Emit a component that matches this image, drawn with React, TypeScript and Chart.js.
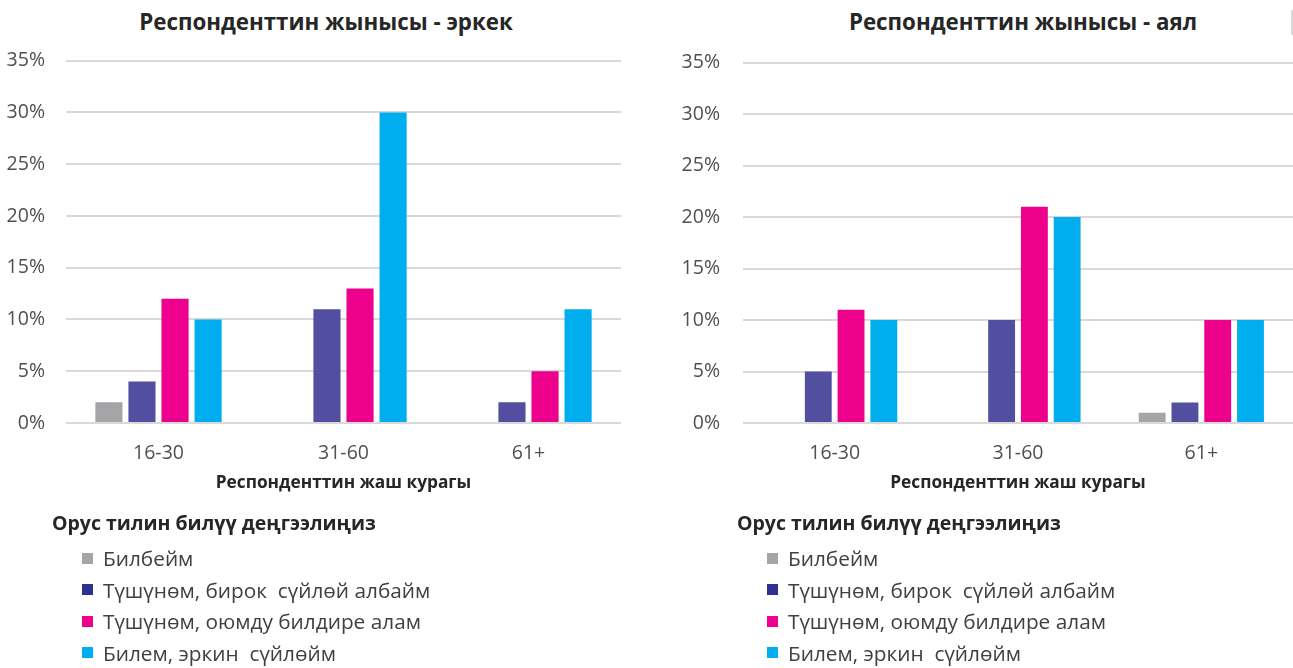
import React, { useEffect, useRef } from "react";
import { Chart, registerables } from "chart.js";

Chart.register(...registerables);

// ---- data ----
const ageGroups = ["16-30", "31-60", "61+"];
const seriesNames = [
  "Билбейм",
  "Түшүнөм, бирок  сүйлөй албайм",
  "Түшүнөм, оюмду билдире алам",
  "Билем, эркин  сүйлөйм",
];
const barColors = ["#A5A5A7", "#524FA1", "#EC008C", "#00AEEF"];
const legendColors = ["#A5A5A7", "#2E3192", "#EC008C", "#00AEEF"];

// male (эркек), percent
const maleDontKnow = [2, 0, 0];
const maleUnderstandNoSpeak = [4, 11, 2];
const maleCanExpress = [12, 13, 5];
const maleFluent = [10, 30, 11];

// female (аял), percent
const femaleDontKnow = [0, 0, 1];
const femaleUnderstandNoSpeak = [5, 10, 2];
const femaleCanExpress = [11, 21, 10];
const femaleFluent = [10, 20, 10];

const yMax = 35;
const yStep = 5;

const panelTitles = ["Респонденттин жынысы - эркек", "Респонденттин жынысы - аял"];
const xAxisTitle = "Респонденттин жаш курагы";
const legendTitle = "Орус тилин билүү деңгээлиңиз";

const FONT = "'Open Sans', 'DejaVu Sans', sans-serif";

type PanelProps = {
  left: number;
  width: number;
  yAxisWidth: number;
  tickPad: number;
  rightPad: number;
  series: number[][];
  title: string;
  titleCenter: number;
  legendLeft: number;
};

function Panel(p: PanelProps) {
  const ref = useRef<HTMLCanvasElement | null>(null);
  const canvasTop = 28;
  const canvasHeight = 483;

  useEffect(() => {
    if (!ref.current) return;
    const chart = new Chart(ref.current, {
      type: "bar",
      data: {
        labels: ageGroups,
        datasets: seriesNames.map((name, i) => ({
          label: name,
          data: p.series[i],
          backgroundColor: barColors[i],
          borderWidth: 0,
          categoryPercentage: 0.715,
          barPercentage: 0.82,
        })),
      },
      options: {
        responsive: false,
        animation: false,
        devicePixelRatio: 1,
        layout: { padding: { top: 8, right: p.rightPad, bottom: 0, left: 0 } },
        plugins: {
          legend: { display: false },
          tooltip: { enabled: false },
          title: { display: false },
        },
        scales: {
          x: {
            grid: { display: false, drawTicks: false },
            border: { display: false },
            ticks: {
              color: "#505050",
              font: { family: FONT, size: 19.5 },
              padding: 19,
            },
            title: {
              display: true,
              text: xAxisTitle,
              color: "#262626",
              font: { family: FONT, size: 17.3, weight: "bold" },
              padding: { top: 0, bottom: 18 },
            },
            afterFit: (scale: any) => {
              scale.height = 88;
            },
          },
          y: {
            min: 0,
            max: yMax,
            grid: { color: "#D9D9D9", lineWidth: 2, drawTicks: false },
            border: { display: false },
            ticks: {
              stepSize: yStep,
              color: "#505050",
              font: { family: FONT, size: 19.5 },
              padding: p.tickPad,
              callback: (v: any) => `${v}%`,
            },
            afterFit: (scale: any) => {
              scale.width = p.yAxisWidth;
            },
          },
        },
      },
    });
    return () => chart.destroy();
  }, []);

  const itemCenters = [558, 589.5, 621, 652.5];

  return (
    <>
      <div
        style={{
          position: "absolute",
          left: p.titleCenter - 300,
          top: 22 - 15,
          width: 600,
          height: 30,
          lineHeight: "30px",
          textAlign: "center",
          fontFamily: FONT,
          fontWeight: 700,
          fontSize: 22.3,
          color: "#262626",
          whiteSpace: "nowrap",
        }}
      >
        {p.title}
      </div>
      <canvas
        ref={ref}
        width={p.width}
        height={canvasHeight}
        style={{ position: "absolute", left: p.left, top: canvasTop, width: p.width, height: canvasHeight }}
      />
      <div
        style={{
          position: "absolute",
          left: p.legendLeft,
          top: 523 - 15,
          height: 30,
          lineHeight: "30px",
          fontFamily: FONT,
          fontWeight: 700,
          fontSize: 19.5,
          color: "#262626",
          whiteSpace: "nowrap",
        }}
      >
        {legendTitle}
      </div>
      {seriesNames.map((name, i) => (
        <React.Fragment key={name}>
          <div
            style={{
              position: "absolute",
              left: p.legendLeft + 30,
              top: itemCenters[i] - 5.5,
              width: 11,
              height: 11,
              background: legendColors[i],
            }}
          />
          <div
            style={{
              position: "absolute",
              left: p.legendLeft + 51,
              top: itemCenters[i] - 15,
              height: 30,
              lineHeight: "30px",
              fontFamily: FONT,
              fontSize: 20.8,
              color: "#404040",
              whiteSpace: "pre",
            }}
          >
            {name}
          </div>
        </React.Fragment>
      ))}
    </>
  );
}

export default function App() {
  return (
    <div
      style={{
        position: "absolute",
        left: 0,
        top: 0,
        width: 1293,
        height: 668,
        overflow: "hidden",
        background: "#ffffff",
      }}
    >
      <Panel
        left={0}
        width={640}
        yAxisWidth={66}
        tickPad={21}
        rightPad={19}
        series={[maleDontKnow, maleUnderstandNoSpeak, maleCanExpress, maleFluent]}
        title={panelTitles[0]}
        titleCenter={326}
        legendLeft={52}
      />
      <Panel
        left={660}
        width={633}
        yAxisWidth={83}
        tickPad={23}
        rightPad={0}
        series={[femaleDontKnow, femaleUnderstandNoSpeak, femaleCanExpress, femaleFluent]}
        title={panelTitles[1]}
        titleCenter={1023}
        legendLeft={737}
      />
      <div style={{ position: "absolute", left: 1291, top: 10, width: 2, height: 25, background: "#D9D9D9" }} />
    </div>
  );
}
